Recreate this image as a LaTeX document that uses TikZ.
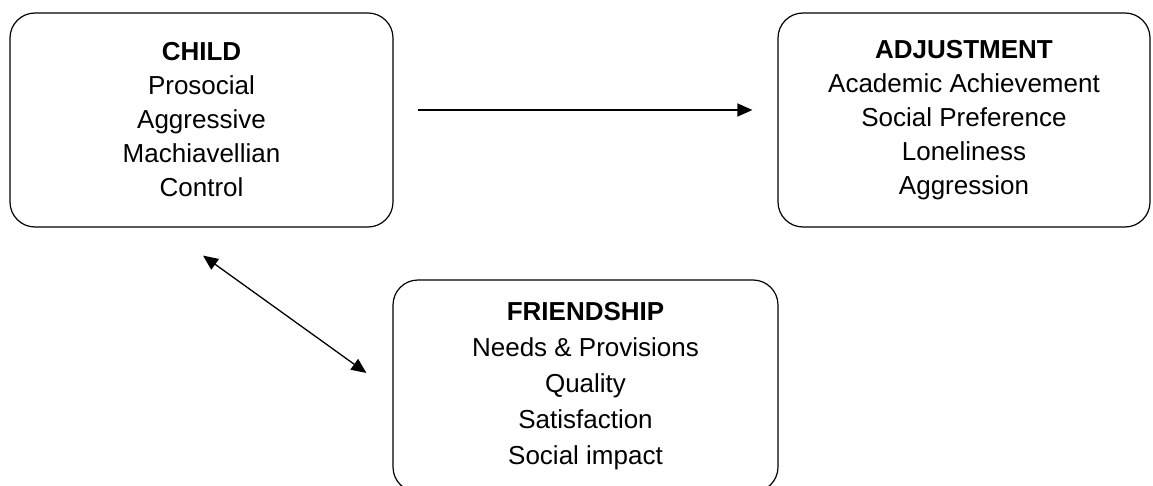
\documentclass[tikz,border=0pt]{standalone}
\usepackage{fontspec}
\setmainfont{Liberation Sans}
\usepackage{tikz}
\usetikzlibrary{arrows.meta,positioning}
\tikzset{
  stagebox/.style={draw=black,line width=1.2pt,rounded corners=25pt,align=center,inner sep=0pt,font=\fontsize{26}{34}\selectfont},
  flow/.style={-{Triangle[length=15pt,width=13pt]},line width=1.3pt},
  twoway/.style={{Triangle[length=15pt,width=13pt]}-{Triangle[length=15pt,width=13pt]},line width=1.3pt},
}

\begin{document}
\begin{tikzpicture}[x=1pt,y=-1pt]
		\useasboundingbox (0,0) rectangle (1153,486);
		\node[stagebox,minimum width=383pt,minimum height=214pt] (child) at (201.5,120) {\textbf{CHILD}\\Prosocial\\Aggressive\\Machiavellian\\Control};
		\node[stagebox,minimum width=372pt,minimum height=214pt] (adjust) at (964,120) {\textbf{ADJUSTMENT}\\Academic Achievement\\Social Preference\\Loneliness\\Aggression};
		\node[stagebox,minimum width=385pt,minimum height=212pt,font=\fontsize{26}{36}\selectfont] (friend) at (585.5,386) {\textbf{FRIENDSHIP}\\Needs \& Provisions\\Quality\\Satisfaction\\Social impact};
		\draw[flow] ([shift={(24,-10)}]child.east)--([shift={(-25,-10)}]adjust.west);
		\draw[twoway] ([shift={(1.5,28)}]child.south)--([shift={(-26,-13)}]friend.west);
	\end{tikzpicture}
\end{document}
